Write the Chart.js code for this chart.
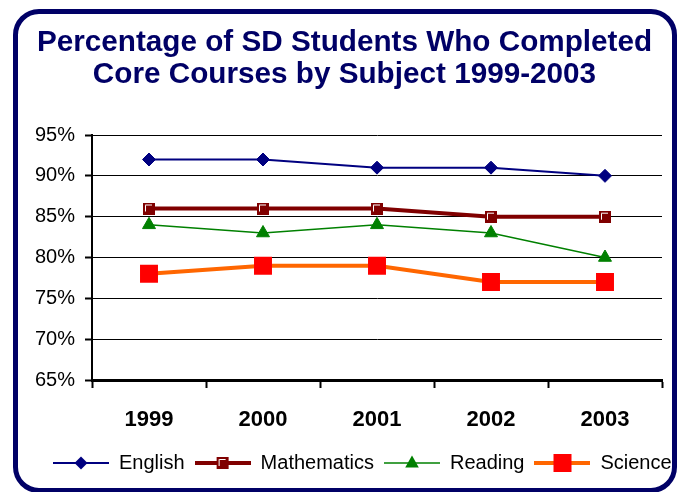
<!DOCTYPE html>
<html>
<head>
<meta charset="utf-8">
<script src="https://cdn.jsdelivr.net/npm/chart.js@4.4.1/dist/chart.umd.min.js"></script>
<style>
  html, body { margin: 0; padding: 0; background: #fff; }
  #wrap { position: relative; width: 681px; height: 492px; overflow: hidden; background: #fff; }
  #chart { position: absolute; left: 0; top: 0; }
  /* cadre arrondi bleu marine autour du graphique */
  #frame {
    position: absolute; left: 13px; top: 9px; width: 664px; height: 484px;
    box-sizing: border-box; border: 5px solid #000066; border-radius: 26px;
    pointer-events: none;
  }
</style>
</head>
<body>
<div id="wrap">
  <canvas id="chart" width="681" height="492"></canvas>
  <div id="frame"></div>
</div>
<script>
// Données
const years = ['1999', '2000', '2001', '2002', '2003'];
const english = [92, 92, 91, 91, 90];
const mathematics = [86, 86, 86, 85, 85];
const reading = [84, 83, 84, 83, 80];
const science = [78, 79, 79, 77, 77];
const yTicks = [65, 70, 75, 80, 85, 90, 95];

const titleLines = ['Percentage of SD Students Who Completed', 'Core Courses by Subject 1999-2003'];

Chart.defaults.font.family = "'Liberation Sans', Arial, sans-serif";

// Marqueur "Mathematics" : carré bordeaux avec un liseré blanc en haut à gauche
function makeMathMarker() {
    const c = document.createElement('canvas');
    c.width = 12; c.height = 12;
    const g = c.getContext('2d');
    g.fillStyle = '#800000';
    g.fillRect(0, 0, 12, 12);
    g.strokeStyle = '#ffffff';
    g.lineWidth = 1;
    g.beginPath();
    g.moveTo(2.5, 9);
    g.lineTo(2.5, 2.5);
    g.lineTo(9, 2.5);
    g.stroke();
    return c;
}
const mathMarker = makeMathMarker();

// Icône de légende : trait + marqueur
function makeLegendIcon(color, width, drawMarker) {
    const c = document.createElement('canvas');
    c.width = 56; c.height = 24;
    const g = c.getContext('2d');
    g.strokeStyle = color;
    g.lineWidth = width;
    g.beginPath();
    g.moveTo(0, 12);
    g.lineTo(56, 12);
    g.stroke();
    drawMarker(g, 28, 12);
    return c;
}

const legendIcons = [
    makeLegendIcon('#000080', 2, (g, x, y) => {
        g.fillStyle = '#000080';
        g.beginPath();
        g.moveTo(x, y - 6.5); g.lineTo(x + 6.5, y); g.lineTo(x, y + 6.5); g.lineTo(x - 6.5, y);
        g.closePath(); g.fill();
    }),
    makeLegendIcon('#800000', 4, (g, x, y) => {
        g.drawImage(mathMarker, x - 6, y - 6);
    }),
    makeLegendIcon('#008000', 1.5, (g, x, y) => {
        g.fillStyle = '#008000';
        g.beginPath();
        g.moveTo(x, y - 7.5); g.lineTo(x + 6.8, y + 4.5); g.lineTo(x - 6.8, y + 4.5);
        g.closePath(); g.fill();
    }),
    makeLegendIcon('#FF6600', 4, (g, x, y) => {
        g.fillStyle = '#FF0000';
        g.fillRect(x - 9, y - 9, 18, 18);
    })
];

// Décale la légende vers la droite comme dans l'original (elle déborde sous le cadre)
const LEGEND_LEFT = 43;
const legendShift = {
    id: 'legendShift',
    afterUpdate(chart) {
        if (chart.legend) {
            chart.legend.left = LEGEND_LEFT;
            chart.legend.right = chart.width + 60;
        }
    }
};

const ctx = document.getElementById('chart').getContext('2d');
new Chart(ctx, {
    type: 'line',
    data: {
        labels: years,
        datasets: [
            {
                label: 'English', data: english,
                borderColor: '#000080', borderWidth: 2,
                pointStyle: 'rectRot', pointRadius: 6.5, pointBackgroundColor: '#000080',
                pointBorderColor: '#000080', pointBorderWidth: 1
            },
            {
                label: 'Mathematics', data: mathematics,
                borderColor: '#800000', borderWidth: 4,
                pointStyle: mathMarker, pointRadius: 6
            },
            {
                label: 'Reading', data: reading,
                borderColor: '#008000', borderWidth: 1.5,
                pointStyle: 'triangle', pointRadius: 7.5, pointBackgroundColor: '#008000',
                pointBorderColor: '#008000', pointBorderWidth: 1
            },
            {
                label: 'Science', data: science,
                borderColor: '#FF6600', borderWidth: 4,
                pointStyle: 'rect', pointRadius: 12.7, pointBackgroundColor: '#FF0000',
                pointBorderColor: '#FF0000', pointBorderWidth: 0
            }
        ]
    },
    options: {
        responsive: false,
        animation: false,
        layout: { padding: { left: 8, right: 0, top: 0, bottom: 9 } },
        elements: { line: { tension: 0, fill: false } },
        plugins: {
            title: {
                display: true,
                text: titleLines,
                color: '#000066',
                font: { size: 29.7, weight: 'bold', lineHeight: 32 / 29.7 },
                padding: { top: 27, bottom: 44 }
            },
            legend: {
                position: 'bottom',
                align: 'start',
                labels: {
                    usePointStyle: true,
                    pointStyleWidth: 56,
                    padding: 10,
                    color: '#000',
                    font: { size: 20 },
                    generateLabels: (chart) => chart.data.datasets.map((ds, i) => ({
                        text: ds.label,
                        pointStyle: legendIcons[i],
                        datasetIndex: i,
                        fontColor: '#000',
                        fillStyle: 'transparent',
                        strokeStyle: 'transparent',
                        lineWidth: 0,
                        hidden: false
                    }))
                }
            },
            tooltip: { enabled: false }
        },
        scales: {
            x: {
                offset: true,
                grid: {
                    offset: true, drawOnChartArea: false, drawTicks: true,
                    tickLength: 8, tickColor: '#000', tickWidth: 2
                },
                border: { color: '#000', width: 3 },
                ticks: { color: '#000', font: { size: 22, weight: 'bold' }, padding: 19, maxRotation: 0 },
                afterFit: (s) => { s.height = 63; }
            },
            y: {
                min: yTicks[0],
                max: yTicks[yTicks.length - 1],
                afterBuildTicks: (s) => { s.ticks = yTicks.map(v => ({ value: v })); },
                grid: { color: '#000', lineWidth: 1, drawTicks: true, tickLength: 7, tickColor: '#000', tickWidth: 2 },
                border: { color: '#000', width: 2 },
                ticks: { color: '#000', font: { size: 20 }, padding: 10, callback: (v) => v + '%' },
                afterFit: (s) => { s.width = 84; }
            },
            // axe vide à droite, sert seulement à réserver la marge droite
            yRight: {
                position: 'right',
                display: true,
                grid: { display: false },
                border: { display: false },
                ticks: { display: false },
                afterFit: (s) => { s.width = 19; }
            }
        }
    },
    plugins: [legendShift]
});
</script>
</body>
</html>
